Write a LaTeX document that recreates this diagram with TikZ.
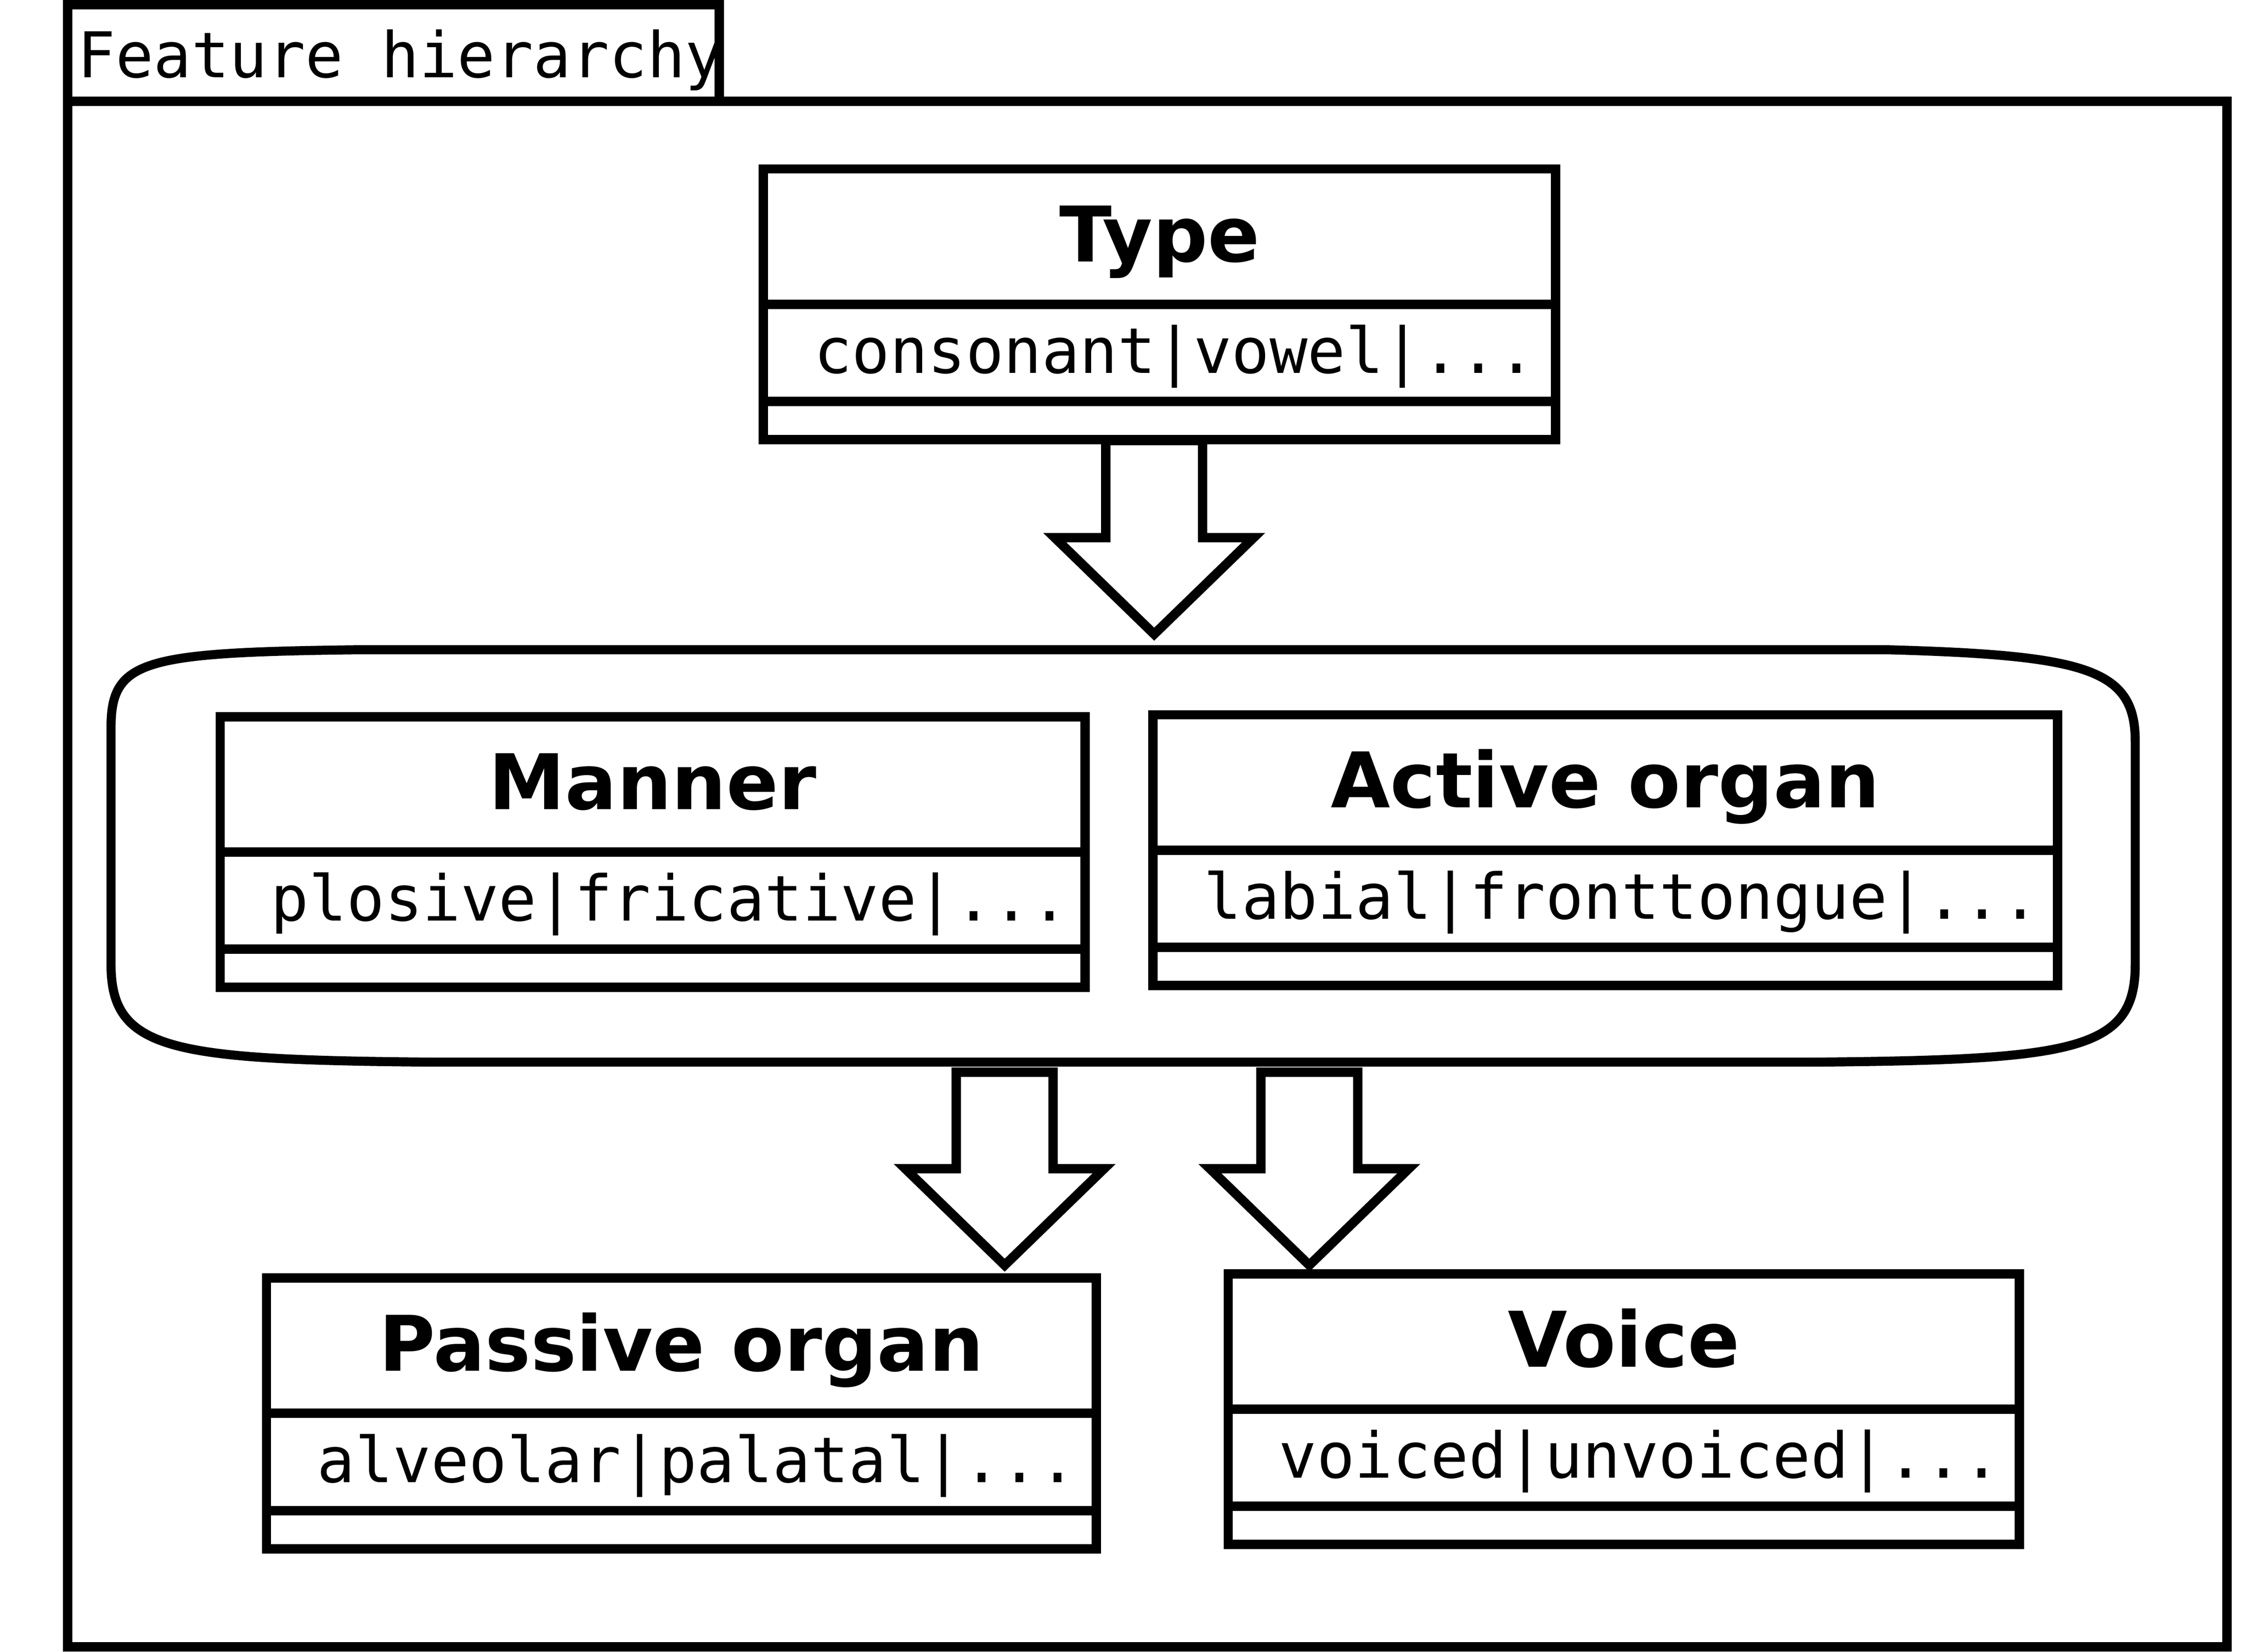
\documentclass[tikz,border=0pt]{standalone}
\usepackage{fontspec}
\setmainfont{DejaVu Sans}
\setmonofont{DejaVu Sans Mono}
\usetikzlibrary{calc}
\tikzset{
  ln/.style={line width=6.5pt},
  framebox/.style={draw, line width=6.5pt, inner sep=0pt, outer sep=0pt},
  classbox/.style={draw, line width=6.5pt, minimum height=188pt, inner sep=0pt, outer sep=0pt, fill=white},
  classtitle/.style={inner sep=0pt, anchor=base, font=\fontsize{53.3}{60}\selectfont\bfseries},
  classattr/.style={inner sep=0pt, anchor=base west, font=\ttfamily\fontsize{43.8}{50}\selectfont},
  frametitle/.style={inner sep=0pt, anchor=base west, font=\ttfamily\fontsize{43.8}{50}\selectfont},
  fatarrow/.style={draw, fill=white, line width=6.5pt, line join=miter},
  groupline/.style={line width=6.3pt},
}
\newcommand{\umlclass}[6]{%
  \node[classbox, minimum width={(#4-#2)*1pt}, anchor=north west] (#1) at (#2,#3) {};
  \draw[ln] ([yshift=-94pt]#1.north west) -- ([yshift=-94pt]#1.north east);
  \draw[ln] ([yshift=-161.5pt]#1.north west) -- ([yshift=-161.5pt]#1.north east);
  \node[classtitle] (#1-title) at ([yshift=-64.5pt]#1.north) {#5};
  \node[classattr] (#1-attr) at ([xshift=35pt,yshift=-141.8pt]#1.north west) {#6};
}
\newcommand{\hollowarrow}[2]{%
  \draw[fatarrow] (#1) ++(-33.6,0) -- ++(0,#2) -- ++(-35.4,0) -- ++(69,67) -- ++(69,-67) -- ++(-35.4,0) -- ++(0,-#2) -- cycle;
}
\begin{document}
\begin{tikzpicture}[x=1pt,y=-1pt]
\useasboundingbox (0,0) rectangle (1560,1147);
% outer frame
\node[framebox, minimum width=1499.3pt, minimum height=1073.3pt, anchor=north west] (frame) at (46.9,70.4) {};
\node[frametitle] (frametitle) at (53.7,53.7) {Feature hierarchy};
\node[framebox, minimum width=452.5pt, minimum height=67.05pt, anchor=north west] (tab) at (46.9,3.35) {};
% group
\node[minimum width=1405.3pt, minimum height=286.4pt, inner sep=0pt, outer sep=0pt, anchor=north west] (group) at (77.1,451.2) {};
\draw[groupline] (250,451.2) -- (1310,451.2)
  .. controls (1450,455) and (1482.4,465) .. (1482.4,515)
  -- (1482.4,670)
  .. controls (1482.4,730) and (1439.4,736) .. (1259.4,737.6)
  -- (300,737.6)
  .. controls (120,736) and (77.1,730) .. (77.1,670)
  -- (77.1,505)
  .. controls (77.1,458) and (100,453) .. (250,451.2) -- cycle;
% classes
\umlclass{type}{529.9}{117.3}{1080.1}{Type}{consonant|vowel|...}
\umlclass{manner}{152.9}{497.7}{753.3}{Manner}{plosive|fricative|...}
\umlclass{active}{800.5}{496.4}{1428.6}{Active organ}{labial|fronttongue|...}
\umlclass{passive}{185}{887.5}{761}{Passive organ}{alveolar|palatal|...}
\umlclass{voice}{852.7}{884.6}{1402}{Voice}{voiced|unvoiced|...}
% arrows
\coordinate (tailA) at (801.3,306);
\coordinate (tailB) at (697.5,744.6);
\coordinate (tailC) at (909,744.6);
\hollowarrow{tailA}{67.4}
\hollowarrow{tailB}{67}
\hollowarrow{tailC}{67}
\end{tikzpicture}
\end{document}
